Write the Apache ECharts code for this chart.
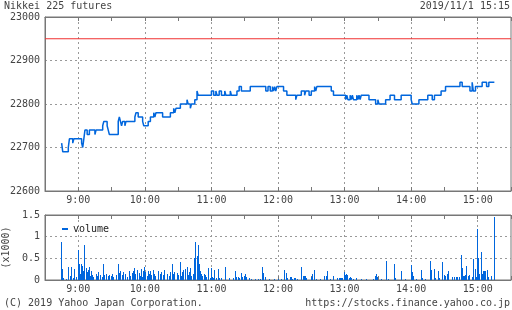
<!DOCTYPE html>
<html><head><meta charset="utf-8">
<script src="https://cdn.jsdelivr.net/npm/echarts@6/dist/echarts.min.js"></script>
<style>html,body{margin:0;padding:0;background:#fff}#c{width:512px;height:310px}</style>
</head><body><div id="c"></div>
<script>
const sessionStart = "8:30";
const sessionEnd = "15:30";
const hourLabels = ["9:00","10:00","11:00","12:00","13:00","14:00","15:00"];
const priceTicks = [22600,22700,22800,22900,23000];
const volumeTicks = [0,0.5,1,1.5];
const refLevel = 22950;

const price = [
["8:45",22710],["8:46",22690],["8:51",22700],["8:52",22720],["8:55",22710],["8:56",22720],
["9:03",22710],["9:04",22700],["9:05",22720],["9:06",22740],["9:08",22730],["9:10",22740],
["9:15",22730],["9:16",22740],["9:22",22750],["9:23",22760],["9:26",22750],["9:27",22740],
["9:28",22730],["9:36",22760],["9:37",22770],["9:38",22760],["9:39",22750],["9:40",22760],
["9:42",22750],["9:43",22760],["9:51",22770],["9:52",22780],["9:54",22770],["9:58",22760],
["9:59",22750],["10:03",22760],["10:05",22770],["10:08",22780],["10:09",22770],["10:10",22780],
["10:16",22770],["10:23",22780],["10:26",22790],["10:27",22780],["10:28",22790],["10:32",22800],
["10:38",22810],["10:39",22800],["10:41",22790],["10:42",22800],["10:45",22810],["10:47",22830],
["10:48",22820],["11:00",22830],["11:02",22820],["11:04",22830],["11:05",22820],["11:07",22830],
["11:09",22820],["11:12",22830],["11:13",22820],["11:17",22830],["11:18",22820],["11:23",22830],
["11:25",22840],["11:27",22830],["11:35",22840],["11:49",22830],["11:51",22840],["11:53",22830],
["11:55",22840],["11:56",22830],["11:57",22840],["11:58",22830],["11:59",22840],["12:05",22830],
["12:08",22820],["12:16",22810],["12:17",22820],["12:21",22830],["12:24",22820],["12:25",22830],
["12:28",22820],["12:30",22830],["12:33",22840],["12:34",22830],["12:35",22840],["12:48",22830],
["12:50",22820],["13:01",22810],["13:02",22820],["13:03",22810],["13:05",22820],["13:06",22810],
["13:07",22820],["13:08",22810],["13:11",22820],["13:12",22810],["13:13",22820],["13:14",22810],
["13:15",22820],["13:22",22810],["13:28",22800],["13:30",22810],["13:31",22800],["13:37",22810],
["13:41",22820],["13:45",22810],["13:51",22820],["14:00",22810],["14:01",22800],["14:07",22810],
["14:15",22820],["14:19",22810],["14:21",22820],["14:27",22830],["14:31",22840],["14:44",22850],
["14:46",22840],["14:53",22830],["14:55",22850],["14:56",22830],["14:58",22840],["15:04",22850],
["15:08",22840],["15:10",22850],["15:15",22850]
];

const volume = [
["8:45",0.88],["8:46",0.26],["8:47",0.04],["8:49",0.03],["8:51",0.31],["8:53",0.10],["8:54",0.30],
["8:56",0.05],["8:57",0.26],["8:58",0.08],["9:00",0.70],["9:01",0.36],["9:02",0.15],["9:03",0.36],
["9:04",0.32],["9:05",0.20],["9:06",0.80],["9:07",0.28],["9:08",0.18],["9:09",0.22],["9:10",0.31],
["9:11",0.10],["9:12",0.20],["9:13",0.12],["9:14",0.08],["9:16",0.15],["9:17",0.10],["9:18",0.18],
["9:20",0.12],["9:22",0.08],["9:23",0.36],["9:24",0.12],["9:25",0.15],["9:27",0.10],["9:28",0.12],
["9:30",0.10],["9:31",0.15],["9:32",0.08],["9:34",0.12],["9:36",0.37],["9:37",0.16],["9:38",0.20],
["9:40",0.12],["9:41",0.18],["9:43",0.15],["9:44",0.08],["9:46",0.20],["9:47",0.10],["9:49",0.16],
["9:50",0.20],["9:51",0.28],["9:52",0.14],["9:53",0.22],["9:55",0.16],["9:56",0.10],["9:57",0.26],
["9:58",0.08],["9:59",0.20],["10:00",0.30],["10:01",0.18],["10:02",0.10],["10:03",0.20],["10:04",0.15],
["10:05",0.20],["10:06",0.12],["10:08",0.22],["10:09",0.15],["10:10",0.10],["10:12",0.20],["10:14",0.15],
["10:15",0.18],["10:17",0.12],["10:18",0.22],["10:20",0.14],["10:22",0.10],["10:23",0.18],["10:25",0.36],
["10:26",0.15],["10:27",0.18],["10:29",0.16],["10:30",0.12],["10:32",0.42],["10:33",0.10],["10:34",0.18],
["10:35",0.22],["10:37",0.25],["10:38",0.30],["10:39",0.12],["10:40",0.18],["10:41",0.28],["10:42",0.10],
["10:44",0.14],["10:45",0.50],["10:46",0.87],["10:47",0.55],["10:48",0.80],["10:49",0.36],["10:50",0.20],
["10:51",0.15],["10:52",0.10],["10:54",0.15],["10:55",0.12],["10:56",0.08],["10:57",0.28],["10:59",0.05],
["11:00",0.27],["11:01",0.06],["11:02",0.05],["11:03",0.22],["11:05",0.04],["11:06",0.26],["11:07",0.05],
["11:09",0.04],["11:13",0.30],["11:16",0.04],["11:20",0.05],["11:22",0.20],["11:23",0.06],["11:24",0.06],
["11:25",0.05],["11:27",0.16],["11:28",0.06],["11:30",0.10],["11:31",0.14],["11:32",0.08],["11:34",0.05],
["11:36",0.02],["11:40",0.02],["11:42",0.02],["11:44",0.02],["11:46",0.30],["11:47",0.16],["11:49",0.08],
["11:52",0.02],["11:57",0.02],["12:00",0.02],["12:03",0.02],["12:06",0.23],["12:08",0.16],["12:09",0.05],
["12:11",0.08],["12:12",0.08],["12:13",0.03],["12:15",0.04],["12:16",0.04],["12:18",0.02],["12:21",0.30],
["12:23",0.10],["12:24",0.10],["12:25",0.10],["12:26",0.05],["12:30",0.08],["12:31",0.14],["12:33",0.22],
["12:35",0.02],["12:38",0.02],["12:42",0.10],["12:44",0.10],["12:45",0.20],["12:47",0.02],["12:50",0.10],
["12:54",0.04],["12:55",0.04],["12:56",0.04],["12:57",0.04],["12:58",0.05],["13:00",0.18],["13:01",0.12],
["13:02",0.15],["13:03",0.12],["13:04",0.05],["13:05",0.08],["13:06",0.04],["13:08",0.02],["13:11",0.04],
["13:15",0.03],["13:20",0.02],["13:26",0.03],["13:28",0.10],["13:29",0.15],["13:30",0.08],["13:33",0.02],
["13:38",0.45],["13:40",0.03],["13:45",0.36],["13:46",0.05],["13:51",0.20],["13:55",0.02],["14:00",0.35],
["14:01",0.18],["14:02",0.10],["14:05",0.02],["14:09",0.23],["14:10",0.05],["14:13",0.02],["14:17",0.45],
["14:18",0.23],["14:21",0.26],["14:22",0.05],["14:25",0.21],["14:26",0.05],["14:28",0.41],["14:30",0.12],
["14:31",0.10],["14:33",0.15],["14:34",0.20],["14:37",0.06],["14:39",0.08],["14:41",0.06],["14:42",0.08],
["14:44",0.06],["14:45",0.57],["14:46",0.27],["14:47",0.10],["14:48",0.10],["14:49",0.12],["14:50",0.33],
["14:52",0.10],["14:53",0.12],["14:55",0.08],["14:56",0.49],["14:58",0.26],["14:59",0.08],["15:00",1.17],
["15:01",0.50],["15:02",0.15],["15:03",0.65],["15:04",0.15],["15:05",0.20],["15:06",0.20],["15:07",0.20],
["15:09",0.24],["15:10",0.08],["15:12",0.10],["15:15",1.46]
];

const FONT = "'DejaVu Sans Mono', monospace";
const TXT = '#444';
const BLUE = '#0066dd';
const RED = '#f03030';
const toMin = s => { const [h, m] = s.split(':').map(Number); return h * 60 + m; };
const fmt = m => Math.floor(m / 60) + ':' + String(m % 60).padStart(2, '0');
const t0 = toMin(sessionStart), t1 = toMin(sessionEnd);
const cats = [];
for (let m = t0; m <= t1; m++) cats.push(fmt(m));
const idx = s => toMin(s) - t0;

const isHour = (i) => hourLabels.includes(cats[i]);
const isHalf = (i) => (i % 30) === 0;

function xa(gridIndex, position, showLabel) {
  return {
    type: 'category', gridIndex, position, data: cats, boundaryGap: false,
    axisLine: { show: true, lineStyle: { color: '#777', width: 1 } },
    axisTick: { show: true, inside: true, length: 4, interval: isHalf, lineStyle: { color: '#777' } },
    axisLabel: { show: showLabel, interval: isHour, margin: 4, fontFamily: FONT, fontSize: 10, color: TXT },
    splitLine: { show: position === 'bottom', interval: isHour, lineStyle: { type: [2, 3], color: '#999', width: 1 } }
  };
}

const chart = echarts.init(document.getElementById('c'), null, { renderer: 'canvas' });
chart.setOption({
  animation: false,
  backgroundColor: '#fff',
  grid: [
    { left: 45, top: 17, width: 466, height: 174, show: true, borderColor: '#777', borderWidth: 1,
      containLabel: false, outerBoundsMode: 'none' },
    { left: 45, top: 215, width: 466, height: 65, show: true, borderColor: '#777', borderWidth: 1,
      containLabel: false, outerBoundsMode: 'none' }
  ],
  xAxis: [xa(0, 'bottom', true), xa(0, 'top', false), xa(1, 'bottom', true), xa(1, 'top', false)],
  yAxis: [
    { type: 'value', gridIndex: 0, min: priceTicks[0], max: priceTicks[priceTicks.length - 1], interval: 100,
      axisLine: { show: true, lineStyle: { color: '#777' } }, axisTick: { show: false },
      axisLabel: { fontFamily: FONT, fontSize: 10, color: TXT, margin: 5,
        formatter: v => priceTicks.includes(v) ? String(v) : '' },
      splitLine: { show: true, lineStyle: { type: [2, 3], color: '#999' } } },
    { type: 'value', gridIndex: 1, min: 0, max: 1.5, interval: 0.5,
      name: '(x1000)', nameLocation: 'middle', nameGap: 32, nameRotate: 90,
      nameTextStyle: { fontFamily: FONT, fontSize: 10, color: TXT },
      axisLine: { show: true, lineStyle: { color: '#777' } }, axisTick: { show: false },
      axisLabel: { fontFamily: FONT, fontSize: 10, color: TXT, margin: 5,
        formatter: v => volumeTicks.includes(v) ? String(v) : '' },
      splitLine: { show: true, lineStyle: { type: [2, 3], color: '#999' } } }
  ],
  legend: {
    data: ['volume'], left: 57, top: 219, icon: 'rect', itemWidth: 6, itemHeight: 2, itemGap: 5,
    textStyle: { fontFamily: FONT, fontSize: 10, color: '#222' }
  },
  series: [
    { name: 'ref', type: 'line', xAxisIndex: 0, yAxisIndex: 0, showSymbol: false, silent: true,
      lineStyle: { color: RED, width: 1 }, itemStyle: { color: RED },
      data: [[0, refLevel], [cats.length - 1, refLevel]] },
    { name: 'price', type: 'line', xAxisIndex: 0, yAxisIndex: 0, step: 'end', showSymbol: false,
      lineStyle: { color: BLUE, width: 1.5 }, itemStyle: { color: BLUE },
      data: price.map(([t, v]) => [idx(t), v]) },
    { name: 'volume', type: 'custom', xAxisIndex: 2, yAxisIndex: 1,
      itemStyle: { color: BLUE },
      encode: { x: 0, y: 1 },
      renderItem: (params, api) => {
        const top = api.coord([api.value(0), api.value(1)]);
        const base = api.coord([api.value(0), 0]);
        const x = Math.floor(top[0]);
        const y = Math.round(top[1]);
        return { type: 'rect', shape: { x: x, y: y, width: 1, height: Math.round(base[1]) - y },
          style: { fill: BLUE } };
      },
      data: volume.map(([t, v]) => [idx(t), v]) }
  ],
  graphic: [
    { type: 'text', left: 4, top: 1, style: { text: 'Nikkei 225 futures', font: '10px ' + FONT, fill: TXT } },
    { type: 'text', right: 2, top: 1, style: { text: '2019/11/1 15:15', font: '10px ' + FONT, fill: TXT } },
    { type: 'text', left: 4, top: 298, style: { text: '(C) 2019 Yahoo Japan Corporation.', font: '10px ' + FONT, fill: TXT } },
    { type: 'text', right: 2, top: 298, style: { text: 'https://stocks.finance.yahoo.co.jp', font: '10px ' + FONT, fill: TXT } }
  ]
});
</script></body></html>
